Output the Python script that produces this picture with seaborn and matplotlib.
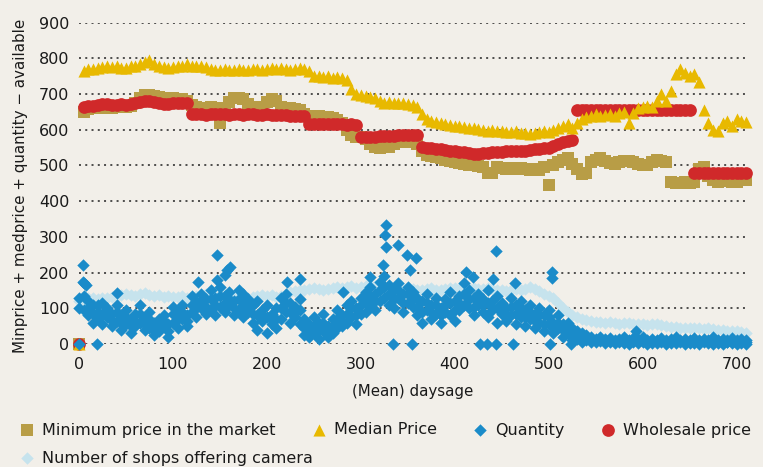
import numpy as np
import matplotlib
matplotlib.use("Agg")
import matplotlib.pyplot as plt
import seaborn as sns

min_price = [
    0, 650, 658, 660, 660, 662, 660, 662, 665, 663,
    665, 668, 675, 690, 698, 698, 695, 692, 690, 688,
    688, 686, 686, 680, 670, 665, 662, 662, 665, 662,
    618, 660, 678, 690, 690, 685, 672, 665, 665, 665,
    678, 685, 682, 665, 662, 660, 658, 655, 645, 640,
    638, 638, 636, 635, 633, 628, 620, 600, 585, 580,
    580, 575, 560, 552, 550, 555, 552, 560, 565, 565,
    568, 566, 560, 540, 530, 526, 524, 520, 515, 513,
    510, 508, 505, 500, 500, 498, 497, 480, 478, 495,
    492, 490, 493, 490, 492, 490, 488, 490, 488, 495,
    445, 500, 510, 515, 520, 505, 490, 475, 480, 510,
    515, 520, 512, 508, 505, 510, 512, 512, 510, 505,
    500, 502, 510, 515, 512, 510, 455, 452, 452, 455,
    452, 455, 490, 495, 470, 458, 455, 458, 456, 455,
    455, 458, 460,
]

median_price = [
    0, 765, 770, 770, 772, 775, 778, 776, 778, 773,
    772, 778, 780, 785, 790, 795, 785, 780, 775, 772,
    775, 778, 780, 783, 778, 780, 778, 775, 770, 768,
    768, 770, 768, 768, 770, 768, 768, 770, 770, 768,
    770, 772, 770, 772, 770, 768, 770, 772, 770, 765,
    750, 752, 748, 750, 746, 748, 745, 740, 715, 700,
    697, 695, 692, 690, 680, 676, 678, 675, 676, 675,
    673, 670, 665, 645, 630, 625, 622, 618, 615, 613,
    610, 612, 608, 606, 605, 603, 600, 598, 600, 596,
    598, 595, 593, 597, 592, 590, 588, 592, 595, 598,
    595, 600, 605, 612, 615, 605, 620, 630, 635, 640,
    645, 640, 642, 645, 640, 648, 650, 620, 648, 660,
    665, 668, 665, 680, 700, 680, 710, 755, 770, 758,
    752, 755, 735, 655, 618, 600, 598, 620, 625, 612,
    630, 625, 622,
]

wholesale = [
    0, 665, 668, 668, 670, 672, 672, 670, 670, 672,
    670, 673, 675, 678, 680, 680, 678, 675, 672, 673,
    675, 676, 676, 676, 643, 643, 643, 642, 643, 643,
    643, 643, 642, 643, 643, 642, 643, 643, 642, 642,
    643, 642, 642, 641, 641, 640, 640, 640, 640, 615,
    615, 615, 615, 615, 615, 615, 615, 614, 615, 614,
    580, 580, 580, 581, 582, 582, 583, 584, 585, 585,
    585, 586, 585, 552, 550, 548, 546, 545, 543, 542,
    540, 538, 537, 535, 533, 533, 535, 535, 537, 538,
    538, 540, 540, 540, 541, 542, 543, 545, 546, 548,
    550, 555, 560, 565, 570, 572, 655, 655, 655, 655,
    655, 655, 655, 655, 655, 655, 655, 655, 655, 655,
    655, 655, 655, 655, 655, 655, 655, 655, 655, 655,
    655, 478, 478, 478, 478, 478, 478, 478, 478, 478,
    478, 478, 478,
]

shops = [
    120, 125, 128, 130, 127, 130, 128, 132, 135, 138,
    140, 137, 135, 140, 142, 138, 135, 137, 133, 135,
    132, 133, 135, 130, 130, 135, 138, 140, 137, 135,
    140, 142, 138, 135, 138, 135, 130, 133, 135, 138,
    135, 137, 133, 135, 140, 145, 148, 150, 152, 155,
    157, 155, 152, 155, 158, 160, 158, 160, 162, 158,
    160, 162, 165, 163, 160, 158, 155, 157, 160, 158,
    155, 153, 152, 150, 153, 156, 152, 150, 153, 156,
    158, 155, 153, 156, 158, 155, 153, 156, 155, 152,
    150, 148, 150, 153, 150, 155, 160, 155, 148, 140,
    135, 128, 115, 100, 90, 82, 75, 70, 67, 65,
    63, 62, 60, 62, 58, 55, 58, 60, 57, 55,
    56, 54, 55, 57, 53, 50, 48, 47, 46, 45,
    45, 44, 45, 43, 45, 42, 40, 38, 37, 35,
    36, 34, 30,
]

# quantity is a noisy cloud: upper, middle and lower readings per sampled day
quantity_hi = [
    100, 170, 120, 110, 90, 115, 100, 85, 110, 80,
    95, 70, 85, 110, 75, 90, 60, 70, 80, 55,
    105, 95, 110, 80, 135, 120, 140, 125, 150, 130,
    160, 135, 145, 120, 150, 140, 125, 110, 120, 95,
    110, 85, 100, 130, 140, 115, 105, 125, 70, 55,
    75, 60, 85, 50, 70, 95, 80, 110, 120, 100,
    130, 145, 160, 140, 175, 190, 165, 150, 170, 140,
    160, 145, 130, 120, 140, 110, 130, 100, 125, 145,
    120, 135, 170, 150, 130, 140, 125, 150, 120, 135,
    115, 100, 130, 110, 120, 95, 110, 85, 100, 80,
    95, 60, 80, 55, 60, 45, 35, 30, 25, 20,
    15, 20, 15, 18, 12, 15, 20, 12, 18, 15,
    20, 10, 15, 12, 18, 10, 15, 20, 12, 15,
    10, 18, 12, 15, 10, 20, 12, 15, 10, 18,
    12, 15, 10,
]

quantity_mid = [
    130, 95, 100, 85, 110, 85, 90, 65, 90, 60,
    75, 50, 65, 85, 55, 70, 40, 55, 65, 35,
    85, 70, 90, 65, 110, 100, 120, 105, 125, 110,
    135, 115, 125, 100, 125, 110, 105, 85, 80, 80,
    75, 70, 70, 100, 115, 90, 90, 95, 45, 35,
    50, 40, 60, 35, 50, 70, 65, 85, 100, 80,
    110, 120, 135, 120, 150, 160, 140, 125, 150, 115,
    140, 125, 105, 90, 115, 90, 110, 80, 110, 115,
    95, 115, 140, 125, 105, 125, 110, 115, 105, 100,
    100, 80, 105, 85, 100, 75, 90, 65, 80, 55,
    75, 45, 60, 40, 45, 30, 25, 15, 18, 12,
    10, 15, 10, 12, 8, 10, 12, 6, 12, 8,
    12, 5, 8, 6, 12, 5, 8, 12, 8, 8,
    6, 10, 6, 10, 5, 12, 6, 8, 6, 10,
    6, 8, 5,
]

quantity_lo = [
    0, 135, 80, 60, 70, 55, 75, 50, 65, 40,
    55, 30, 50, 60, 40, 45, 25, 35, 50, 20,
    60, 45, 70, 50, 90, 75, 100, 85, 95, 80,
    105, 90, 110, 80, 95, 75, 90, 60, 40, 65,
    30, 55, 45, 70, 90, 60, 75, 55, 25, 20,
    30, 15, 35, 20, 30, 45, 50, 60, 75, 55,
    85, 90, 105, 95, 120, 130, 110, 100, 130, 90,
    115, 105, 80, 60, 95, 70, 85, 60, 90, 80,
    65, 95, 110, 100, 80, 110, 90, 75, 95, 60,
    85, 65, 80, 55, 75, 50, 70, 45, 60, 35,
    55, 30, 45, 20, 30, 10, 15, 5, 10, 5,
    5, 8, 3, 5, 2, 5, 3, 0, 5, 2,
    5, 0, 3, 2, 5, 0, 3, 2, 5, 0,
    3, 2, 0, 5, 2, 0, 3, 0, 5, 2,
    0, 3, 0,
]

# isolated quantity points (outliers and zeros)
quantity_extra_days = [4, 4, 8, 19, 40, 127, 147, 147, 155, 158,
                       161, 221, 235, 281, 310, 324, 326, 327, 327, 340,
                       349, 352, 359, 334, 354, 412, 419, 427, 434, 441,
                       444, 444, 462, 464, 501, 503, 503, 524, 593]
quantity_extra = [222, 175, 165, 0, 144, 175, 249, 179, 193, 207,
                  217, 173, 181, 147, 188, 221, 305, 333, 272, 277,
                  249, 206, 240, 0, 0, 203, 188, 0, 0, 183,
                  260, 0, 0, 172, 0, 203, 184, 0, 35]

days = np.arange(len(min_price)) * 5
q_days = np.concatenate([days, days, days, quantity_extra_days])
q_vals = np.concatenate([quantity_hi, quantity_mid, quantity_lo, quantity_extra])

bg = "#f2efe9"
sns.set_theme(style="white", rc={"axes.facecolor": bg, "figure.facecolor": bg})
plt.rcParams["font.family"] = ["DejaVu Sans"]

fig = plt.figure(figsize=(7.63, 4.67), dpi=100)
ax = fig.add_axes([0.1035, 0.2634, 0.8755, 0.688])

lbl_min = "Minimum price in the market"
lbl_med = "Median Price"
lbl_q = "Quantity"
lbl_w = "Wholesale price"
lbl_s = "Number of shops offering camera"

sns.scatterplot(x=days, y=shops, marker="D", s=40, color="#c6e3ed", linewidth=0,
                clip_on=False, zorder=2, label=lbl_s, ax=ax)
sns.scatterplot(x=days, y=min_price, marker="s", s=66, color="#b89d46", linewidth=0,
                clip_on=False, zorder=3, label=lbl_min, ax=ax)
sns.scatterplot(x=days, y=wholesale, marker="o", s=84, color="#d0292a", linewidth=0,
                clip_on=False, zorder=4, label=lbl_w, ax=ax)
sns.scatterplot(x=days, y=median_price, marker="^", s=76, color="#e8b900", linewidth=0,
                clip_on=False, zorder=5, label=lbl_med, ax=ax)
sns.scatterplot(x=q_days, y=q_vals, marker="D", s=40, color="#1a8bc9", linewidth=0,
                clip_on=False, zorder=6, label=lbl_q, ax=ax)

handles, labels = ax.get_legend_handles_labels()
if ax.get_legend() is not None:
    ax.get_legend().remove()
hmap = dict(zip(labels, handles))

ax.set_xlim(0, 711)
ax.set_ylim(0, 900)
ax.set_xticks(range(0, 701, 100))
ax.set_yticks(range(0, 901, 100))
ax.yaxis.grid(True, color="#222222", linestyle=(0, (1.3, 2.8)), linewidth=1.1)
ax.xaxis.grid(False)
ax.set_axisbelow(True)
sns.despine(ax=ax, left=True, bottom=True)
ax.tick_params(axis="both", length=0, labelsize=11.5, colors="#1a1a1a")
ax.tick_params(axis="y", pad=6.8)
ax.tick_params(axis="x", pad=9.5)

ax.set_xlabel("(Mean) daysage", fontsize=10.8, color="#1a1a1a")
ax.xaxis.set_label_coords(0.5, -0.149)
ax.xaxis.label.set_verticalalignment("center")
ax.set_ylabel("Minprice + medprice + quantity \u2212 available", fontsize=10.9, color="#1a1a1a")
ax.yaxis.set_label_coords(-0.087, 0.493)
ax.yaxis.label.set_verticalalignment("center")

row1 = [lbl_min, lbl_med, lbl_q, lbl_w]
leg_kw = dict(loc="center left", frameon=False, fontsize=11.5, handlelength=1.0,
              handletextpad=0.45, borderpad=0, borderaxespad=0, scatterpoints=1,
              labelcolor="#1a1a1a")
fig.legend([hmap[l] for l in row1], row1, ncol=4, columnspacing=2.2,
           bbox_to_anchor=(19 / 763, 37 / 467), **leg_kw)
fig.legend([hmap[lbl_s]], [lbl_s], bbox_to_anchor=(19 / 763, 9 / 467), **leg_kw)

fig.savefig("out.png", dpi=100, facecolor=bg)
